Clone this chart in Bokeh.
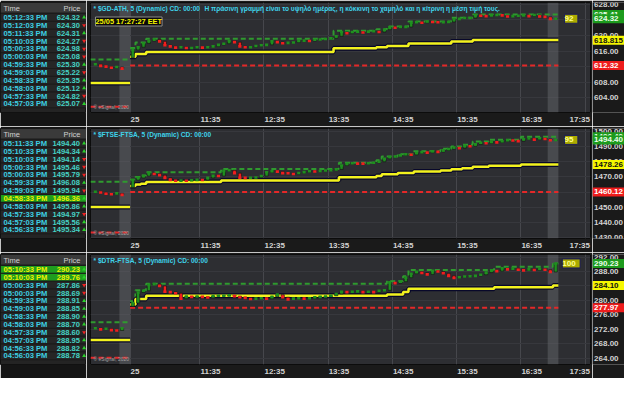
import numpy as np
from bokeh.plotting import figure
from bokeh.layouts import row, column
from bokeh.models import Range1d, FixedTicker, Label
from bokeh.core.properties import value
from bokeh.embed import file_html
from bokeh.resources import INLINE

FONT = "Liberation Sans"

# ---------------- time axis ----------------
BAR_MINUTES = 5
SESSION_OPEN = "10:30"
DAY_LABEL = "25"
time_ticks = ["11:35", "12:35", "13:35", "14:35", "15:35", "16:35", "17:35"]
auction_start = ["10:20", "17:00"]
auction_end = ["10:30", "17:10"]

note_text = "Η πράσινη γραμμή είναι το υψηλό ημέρας, η κόκκινη το χαμηλό και η κίτρινη η μέση τιμή τους."
stamp_text = "25/05 17:27:27 EET"
copyright_text = "® eSignal, 2020"

# ---------------- panel 1: $GD-ATH ----------------
gd_title = "* $GD-ATH, 5 (Dynamic) CD: 00:00"
gd_prev_close = [612.6, 612.2, 612.0, 611.7, 611.9, 611.5]
gd_prev_high = 613.85
gd_prev_low = 601.7
gd_open0 = 614.3
gd_close = [616.3, 617.0, 618.0, 618.6, 619.0, 618.5, 617.5, 617.2, 616.9, 617.0,
            616.8, 616.8, 617.0, 616.9, 617.0, 617.2, 617.6, 617.9, 618.6, 618.3,
            617.2, 617.0, 617.0, 617.3, 617.5, 617.6, 618.5, 618.3, 618.0, 618.1,
            618.2, 618.6, 618.7, 618.6, 618.9, 619.0, 619.1, 619.3, 619.8, 620.9,
            620.6, 620.9, 621.0, 620.8, 621.0, 621.1, 620.9, 621.5, 622.1, 622.0,
            622.2, 622.2, 623.3, 623.4, 623.3, 623.6, 623.5, 623.4, 623.4, 623.5,
            624.2, 624.3, 624.5, 624.5, 625.2, 625.1, 625.0, 625.2, 625.3, 625.2,
            624.9, 625.0, 625.1, 625.2, 625.0, 625.3, 624.9, 624.8, 624.3, 624.32]
gd_high_bar = [0, 1, 3, 38, 46, 48, 52, 60, 64]
gd_high = [616.8, 618.2, 619.2, 621.2, 621.6, 622.3, 623.6, 624.6, 625.41]
gd_low = 612.32
gd_marks = ["625.41", "624.32", "618.815", "612.32"]
gd_kinds = ["high", "last", "avg", "low"]
gd_signal = "92"
gd_yticks = [604, 608, 612, 616, 620, 624, 628]
gd_ylim = [600.2, 628.5]

# ---------------- panel 2: $FTSE-FTSA ----------------
ft_title = "* $FTSE-FTSA, 5 (Dynamic) CD: 00:00"
ft_prev_close = [1460.3, 1459.8, 1459.0, 1458.6, 1459.2, 1458.2]
ft_prev_high = 1466.9
ft_prev_low = 1433.5
ft_open0 = 1463.1
ft_close = [1468.0, 1469.4, 1470.6, 1472.5, 1472.0, 1471.2, 1469.4, 1468.1, 1467.5, 1467.6,
            1467.5, 1467.8, 1468.1, 1468.0, 1469.4, 1470.8, 1470.6, 1474.0, 1474.4, 1472.5,
            1469.5, 1469.4, 1469.5, 1469.6, 1470.6, 1473.1, 1473.75, 1473.5, 1472.5, 1472.4,
            1472.0, 1472.6, 1473.2, 1473.75, 1473.6, 1473.9, 1474.3, 1474.4, 1475.0, 1477.5,
            1478.6, 1479.0, 1478.8, 1478.75, 1479.0, 1479.4, 1480.0, 1482.0, 1483.1, 1483.5,
            1484.2, 1485.0, 1484.6, 1485.8, 1486.25, 1486.0, 1486.9, 1486.5, 1487.5, 1488.4,
            1489.4, 1489.0, 1490.6, 1490.2, 1491.5, 1492.5, 1492.2, 1493.1, 1492.8, 1493.5,
            1494.2, 1494.0, 1493.6, 1494.8, 1495.3, 1494.6, 1495.5, 1495.0, 1494.2, 1494.4]
ft_high_bar = [0, 1, 2, 3, 17, 39, 46, 47, 50, 53, 58, 60, 62, 64, 67, 73]
ft_high = [1468.1, 1470.0, 1471.0, 1473.1, 1475.2, 1479.4, 1481.0, 1483.5, 1485.0,
           1487.0, 1488.5, 1490.0, 1491.2, 1493.3, 1494.5, 1496.4]
ft_low = 1460.12
ft_marks = ["1496.40", "1494.40", "1478.26", "1460.12"]
ft_kinds = ["high", "last", "avg", "low"]
ft_signal = "95"
ft_yticks = [1430, 1440, 1450, 1460, 1470, 1480, 1490, 1500]
ft_ylim = [1429.5, 1501.9]

# ---------------- panel 3: $DTR-FTSA ----------------
dt_title = "* $DTR-FTSA, 5 (Dynamic) CD: 00:00"
dt_prev_close = [272.3, 272.0, 272.2, 271.8, 271.7, 272.3]
dt_prev_high = 274.0
dt_prev_low = 264.2
dt_open0 = 278.3
dt_close = [279.3, 282.2, 282.7, 284.3, 284.5, 284.0, 282.4, 282.3, 282.0, 280.5,
            281.1, 281.0, 281.1, 281.0, 280.8, 281.2, 281.3, 281.3, 281.4, 281.2,
            280.9, 280.7, 280.4, 280.5, 280.6, 280.5, 281.0, 281.6, 280.9, 280.3,
            280.5, 280.6, 280.5, 280.6, 280.9, 281.0, 281.1, 281.3, 281.8, 282.4,
            282.3, 282.4, 282.5, 282.3, 282.4, 282.3, 282.7, 282.8, 285.0, 284.8,
            285.2, 286.3, 287.4, 287.9, 287.6, 287.2, 288.2, 288.0, 287.5, 286.8,
            286.2, 286.4, 286.6, 286.7, 286.8, 287.1, 287.7, 288.3, 288.1, 288.9,
            288.6, 288.8, 288.5, 288.3, 288.6, 288.4, 288.7, 288.5, 287.86, 290.23]
dt_high_bar = [0, 1, 3, 48, 51, 52, 68, 79]
dt_high = [279.8, 282.8, 284.6, 285.3, 286.7, 288.45, 289.3, 290.23]
dt_low = 277.97
dt_marks = ["290.23", "284.10", "277.97"]
dt_kinds = ["high", "avg", "low"]
dt_signal = "100"
dt_yticks = [264, 268, 272, 276, 280, 284, 288, 292]
dt_ylim = [262.3, 292.7]

# ---------------- time & sales tables ----------------
t1_time = ["05:12:33 PM", "05:12:03 PM", "05:11:33 PM", "05:10:03 PM", "05:00:33 PM", "05:00:03 PM",
           "04:59:33 PM", "04:59:03 PM", "04:58:33 PM", "04:58:03 PM", "04:57:33 PM", "04:57:03 PM"]
t1_price = ["624.32", "624.30", "624.31", "624.27", "624.98", "625.08",
            "625.30", "625.22", "625.35", "625.12", "624.82", "625.07"]
t1_dir = [1, -1, 1, -1, -1, -1, 1, -1, 1, 1, -1, 1]
t1_hl = []

t2_time = ["05:11:33 PM", "05:10:33 PM", "05:10:03 PM", "05:00:33 PM", "05:00:03 PM", "04:59:33 PM",
           "04:59:03 PM", "04:58:33 PM", "04:58:03 PM", "04:57:33 PM", "04:57:03 PM", "04:56:33 PM"]
t2_price = ["1494.40", "1494.34", "1494.14", "1495.46", "1495.79", "1496.08",
            "1495.94", "1496.36", "1495.86", "1494.97", "1495.56", "1495.34"]
t2_dir = [1, 1, -1, -1, -1, 1, -1, 1, 1, -1, 1, 1]
t2_hl = [7]

t3_time = ["05:10:33 PM", "05:10:03 PM", "05:00:33 PM", "05:00:03 PM", "04:59:33 PM", "04:59:03 PM",
           "04:58:33 PM", "04:58:03 PM", "04:57:33 PM", "04:57:03 PM", "04:56:33 PM", "04:56:03 PM"]
t3_price = ["290.23", "289.76", "287.86", "288.69", "288.91", "288.85",
            "288.90", "288.70", "288.60", "288.95", "288.82", "288.78"]
t3_dir = [1, 1, -1, -1, 1, 1, 1, 1, -1, 1, 1, 1]
t3_hl = [0, 1]

# ---------------- layout constants ----------------
W_TABLE, W_AXIS, H = 86, 32, 126
BL, BR, BT, BB = 4, 2, 2, 14
FW = 500
W_CHART = BL + FW + BR
FH = H - BT - BB
X0, X1 = -7.4, 86.0
PX_PER_BAR = FW / (X1 - X0)
AX_FONT_PX = 8

GREEN_LINE = "#2f9a2f"
RED_LINE = "#e42828"
YELLOW = "#f2f21e"
CYAN = "#3fd3ea"
CANDLE_UP = "#1f8f1f"
CANDLE_DN = "#f01e1e"
AXIS_BG = "#1a1a1a"


def bar_index(hhmm):
    h, m = map(int, hhmm.split(":"))
    oh, om = map(int, SESSION_OPEN.split(":"))
    v = ((h * 60 + m) - (oh * 60 + om)) / BAR_MINUTES
    return int(round(v)) if abs(v - round(v)) < 1e-9 else v


def half_label_bars(lab):
    # labels start at their tick (left aligned, as in the original software)
    w = sum(0.333 if ch == ":" else 0.556 for ch in lab) * AX_FONT_PX
    return (w / 2 + 0.5) / PX_PER_BAR


def make_chart(title, prev_close, prev_high, prev_low, open0, close, high_bar, high_val,
               low, signal, ylim, yticks, with_note=False):
    p = figure(width=W_CHART, height=H, output_backend="svg", toolbar_location=None,
               x_range=Range1d(X0, X1), y_range=Range1d(*ylim), y_axis_location=None,
               min_border_left=BL, min_border_right=BR, min_border_top=BT, min_border_bottom=BB)
    p.background_fill_color = "#2d2e32"
    p.border_fill_color = AXIS_BG
    p.outline_line_color = "#0c0c0c"

    labels = [DAY_LABEL] + time_ticks
    grid_pos = [bar_index(SESSION_OPEN)] + [bar_index(t) for t in time_ticks]
    label_pos = []
    for g, lab in zip(grid_pos, labels):
        hb = half_label_bars(lab)
        label_pos.append(round(min(g + hb, X1 - hb), 3))
    p.xaxis.ticker = FixedTicker(ticks=label_pos)
    p.xaxis.major_label_overrides = {v: lab for v, lab in zip(label_pos, labels)}
    p.xgrid.ticker = FixedTicker(ticks=grid_pos)
    p.xgrid.grid_line_color = "#46474c"
    p.ygrid.ticker = FixedTicker(ticks=yticks)
    p.ygrid.grid_line_color = "#37383d"
    ax = p.xaxis[0]
    ax.axis_line_color = None
    ax.major_tick_line_color = None
    ax.minor_tick_line_color = None
    ax.major_tick_out = 0
    ax.major_tick_in = 0
    ax.minor_tick_out = 0
    ax.minor_tick_in = 0
    ax.major_label_text_font = FONT
    ax.major_label_text_font_size = "%dpx" % AX_FONT_PX
    ax.major_label_text_font_style = "bold"
    ax.major_label_text_color = "#d2d2d2"
    ax.major_label_standoff = 2

    # auction bands
    a0 = [bar_index(t) for t in auction_start]
    a1 = [bar_index(t) for t in auction_end]
    p.quad(left=a0, right=a1, bottom=ylim[0], top=ylim[1], fill_color="#6b6c71",
           fill_alpha=0.45, line_color=None)

    # previous day lines
    prev_x = [X0, 0]
    prev_avg = (prev_high + prev_low) / 2
    p.line(prev_x, [prev_high] * 2, color=GREEN_LINE, line_width=2, line_dash="5 3")
    p.line(prev_x, [prev_low] * 2, color=RED_LINE, line_width=2, line_dash="5 3")
    p.line(prev_x, [prev_avg] * 2, color="#08082a", line_width=5)
    p.line(prev_x, [prev_avg] * 2, color=YELLOW, line_width=2.5)

    # today's lines
    n = len(close)
    hx = list(high_bar) + [n]
    hy = list(high_val) + [high_val[-1]]
    avg = [(h + low) / 2 for h in hy]
    p.step(hx, hy, mode="after", color=GREEN_LINE, line_width=2, line_dash="5 3")
    p.line([0, n], [low, low], color=RED_LINE, line_width=2, line_dash="5 3")
    p.step(hx, avg, mode="after", color="#08082a", line_width=5)
    p.step(hx, avg, mode="after", color=YELLOW, line_width=2.5)

    # candles
    n_prev = len(prev_close)
    px = list(np.arange(n_prev) - n_prev - 0.5)
    xs = px + list(np.arange(n) + 0.5)
    cl = list(prev_close) + list(close)
    op = [prev_close[0]] + list(prev_close[:-1]) + [open0] + list(close[:-1])
    cols = [CANDLE_UP if c >= o else CANDLE_DN for o, c in zip(op, cl)]
    p.vbar(x=xs, width=0.6, top=np.maximum(op, cl), bottom=np.minimum(op, cl),
           fill_color=cols, line_color="#111111", line_width=0.6)
    p.rect(x=xs, y=cl, width=0.6, height=2.6, height_units="screen",
           fill_color=cols, line_color=None)

    # texts
    p.add_layout(Label(x=3, y=FH - 6, x_units="screen", y_units="screen", text=title,
                       text_font=FONT, text_font_size="6.6px", text_font_style="bold",
                       text_color=CYAN, text_baseline="middle"))
    if with_note:
        p.add_layout(Label(x=114, y=FH - 6, x_units="screen", y_units="screen", text=note_text,
                           text_font=FONT, text_font_size="6.6px", text_font_style="bold",
                           text_color=CYAN, text_baseline="middle"))
        p.add_layout(Label(x=5, y=FH - 19, x_units="screen", y_units="screen", text=stamp_text,
                           text_font=FONT, text_font_size="7.4px", text_font_style="bold",
                           text_color="#f5f500", background_fill_color="#0a0a0a",
                           border_line_color="#8c8c8c", text_baseline="middle"))
    p.add_layout(Label(x=3, y=3, x_units="screen", y_units="screen", text=copyright_text,
                       text_font=FONT, text_font_size="5px", text_color="#a0a0a0"))

    # signal box
    p.add_layout(Label(x=n + 2.4, y=close[-1], text=" " + signal + " ", text_font=FONT,
                       text_font_size="8px", text_font_style="bold", text_color="#ffff90",
                       background_fill_color="#aaaa00", border_line_color="#1a1a5a",
                       text_align="center", text_baseline="middle"))
    return p


def make_axis(chart, yticks, marks, kinds):
    p = figure(width=W_AXIS, height=H, output_backend="svg", toolbar_location=None,
               x_range=Range1d(0, 1), y_range=chart.y_range,
               x_axis_location=None, y_axis_location=None,
               min_border_left=0, min_border_right=0, min_border_top=BT, min_border_bottom=BB)
    p.grid.visible = False
    p.outline_line_color = None
    p.background_fill_color = AXIS_BG
    p.border_fill_color = AXIS_BG
    p.text(x=[0.05] * len(yticks), y=yticks, text=["%.2f" % t for t in yticks],
           text_font=value(FONT), text_font_size="8px", text_font_style="bold",
           text_color="#d2d2d2", text_baseline="middle")
    styles = {"high": ("#1d9b1d", "#eaffea"), "last": ("#1d9b1d", "#eaffea"),
              "avg": ("#f6f600", "#111111"), "low": ("#ee1c1c", "#ffffff")}
    for txt, kind in zip(marks, kinds):
        bg, fg = styles[kind]
        yv = float(txt)
        p.rect(x=[0.5], y=[yv], width=1.0, height=9, height_units="screen",
               fill_color=bg, line_color=None)
        p.text(x=[0.05], y=[yv], text=[txt], text_font=value(FONT), text_font_size="8px",
               text_font_style="bold", text_color=fg, text_baseline="middle")
    return p


def make_table(times, prices, dirs, hl):
    n = len(times)
    p = figure(width=W_TABLE, height=H, output_backend="svg", toolbar_location=None,
               x_range=Range1d(0, 1), y_range=Range1d(12.1, -1.9),
               x_axis_location=None, y_axis_location=None, min_border=0)
    p.grid.visible = False
    p.outline_line_color = "#111111"
    p.background_fill_color = "#242424"
    p.border_fill_color = "#151515"
    rows = list(range(n))
    p.quad(left=[0], right=[1], top=[-1.9], bottom=[-0.55], fill_color="#3a3a3a",
           line_color="#151515")
    p.text(x=[0.035], y=[-1.2], text=["Time"], text_font=value(FONT), text_font_size="7.5px",
           text_color="#cfcfcf", text_baseline="middle")
    p.text(x=[0.93], y=[-1.2], text=["Price"], text_font=value(FONT), text_font_size="7.5px",
           text_color="#cfcfcf", text_baseline="middle", text_align="right")
    bg = ["#1f9d1f" if i in hl else "#262626" for i in rows]
    p.quad(left=0, right=1, top=[r - 0.5 for r in rows], bottom=[r + 0.5 for r in rows],
           fill_color=bg, line_color="#1b1b1b", line_width=1)
    tcol = ["#eef000" if i in hl else "#3ccfe2" for i in rows]
    pcol = ["#eef000" if i in hl else "#44d2c4" for i in rows]
    p.text(x=[0.035] * n, y=rows, text=times, text_font=value(FONT), text_font_size="7.6px",
           text_font_style="bold", text_color=tcol, text_baseline="middle")
    p.text(x=[0.925] * n, y=rows, text=prices, text_font=value(FONT), text_font_size="7.6px",
           text_font_style="bold", text_color=pcol, text_baseline="middle", text_align="right")
    mk = ["triangle" if d > 0 else "inverted_triangle" for d in dirs]
    ac = ["#2ad02a" if d > 0 else "#ee2222" for d in dirs]
    p.scatter(x=[0.972] * n, y=rows, marker=mk, size=4, fill_color=ac, line_color=None)
    return p


c1 = make_chart(gd_title, gd_prev_close, gd_prev_high, gd_prev_low, gd_open0, gd_close,
                gd_high_bar, gd_high, gd_low, gd_signal, gd_ylim, gd_yticks, with_note=True)
c2 = make_chart(ft_title, ft_prev_close, ft_prev_high, ft_prev_low, ft_open0, ft_close,
                ft_high_bar, ft_high, ft_low, ft_signal, ft_ylim, ft_yticks)
c3 = make_chart(dt_title, dt_prev_close, dt_prev_high, dt_prev_low, dt_open0, dt_close,
                dt_high_bar, dt_high, dt_low, dt_signal, dt_ylim, dt_yticks)
a1 = make_axis(c1, gd_yticks, gd_marks, gd_kinds)
a2 = make_axis(c2, ft_yticks, ft_marks, ft_kinds)
a3 = make_axis(c3, dt_yticks, dt_marks, dt_kinds)
tb1 = make_table(t1_time, t1_price, t1_dir, t1_hl)
tb2 = make_table(t2_time, t2_price, t2_dir, t2_hl)
tb3 = make_table(t3_time, t3_price, t3_dir, t3_hl)

layout = column(row(tb1, c1, a1), row(tb2, c2, a2), row(tb3, c3, a3))
open("out.html", "w").write(file_html(layout, INLINE))
